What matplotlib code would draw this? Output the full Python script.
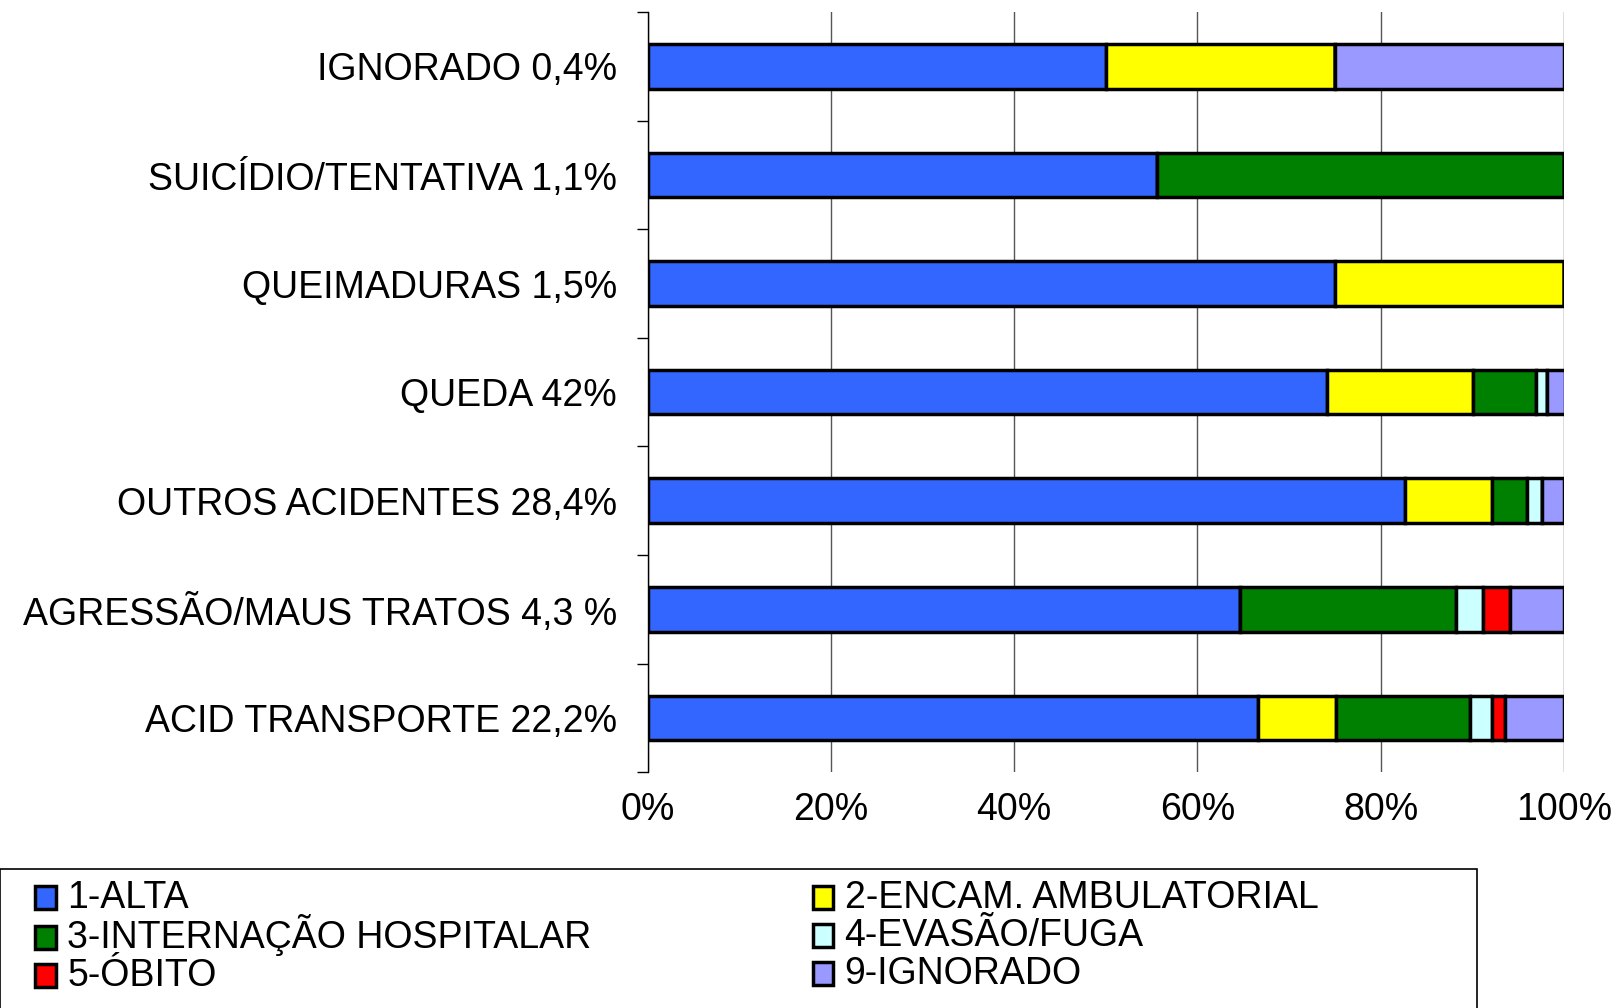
import numpy as np
import matplotlib.pyplot as plt
from matplotlib.patches import Rectangle
from matplotlib.legend_handler import HandlerPatch

plt.rcParams['font.family'] = ['Liberation Sans', 'DejaVu Sans']

categorias = ['ACID TRANSPORTE 22,2%', 'AGRESSÃO/MAUS TRATOS 4,3 %', 'OUTROS ACIDENTES 28,4%',
              'QUEDA 42%', 'QUEIMADURAS 1,5%', 'SUICÍDIO/TENTATIVA 1,1%', 'IGNORADO 0,4%']

alta = [66.6, 64.7, 82.7, 74.1, 75.0, 55.6, 50.0]
encam = [8.5, 0.0, 9.4, 16.0, 25.0, 0.0, 25.0]
internacao = [14.6, 23.5, 3.9, 6.8, 0.0, 44.4, 0.0]
evasao = [2.4, 3.0, 1.6, 1.2, 0.0, 0.0, 0.0]
obito = [1.5, 2.9, 0.0, 0.0, 0.0, 0.0, 0.0]
ignorado = [6.4, 5.9, 2.4, 2.0, 0.0, 0.0, 25.0]

series = [alta, encam, internacao, evasao, obito, ignorado]
nomes = ['1-ALTA', '2-ENCAM. AMBULATORIAL', '3-INTERNAÇÃO HOSPITALAR',
         '4-EVASÃO/FUGA', '5-ÓBITO', '9-IGNORADO']
cores = ['#3366FF', '#FFFF00', '#008000', '#CCFFFF', '#FF0000', '#9999FF']

fig = plt.figure(figsize=(16.19, 10.08), dpi=100)
ax = fig.add_axes([0.40, 0.234, 0.566, 0.754])

y = np.arange(len(categorias))
base = np.zeros(len(categorias))
barras = []
for vals, nome, cor in zip(series, nomes, cores):
    v = np.array(vals)
    b = ax.barh(y, v, left=base, height=0.41, color=cor, edgecolor='black',
                linewidth=2.5, label=nome, zorder=3)
    barras.append(b)
    base = base + v

ax.set_xlim(0, 100)
ax.set_ylim(-0.5, 6.5)
ax.set_xticks([0, 20, 40, 60, 80, 100])
ax.set_xticklabels(['0%', '20%', '40%', '60%', '80%', '100%'], fontsize=27)
ax.set_yticks(y)
ax.set_yticklabels(categorias, fontsize=27)
ax.set_yticks(np.arange(-0.5, 7, 1), minor=True)
ax.tick_params(axis='y', which='major', length=0, pad=22)
ax.tick_params(axis='y', which='minor', length=8, width=1, direction='out')
ax.tick_params(axis='x', length=0, pad=14)
ax.grid(axis='x', color='#555555', linewidth=1, zorder=0)
for s in ['top', 'right', 'bottom']:
    ax.spines[s].set_visible(False)
ax.spines['left'].set_linewidth(1)


# quadradinho menor dentro da caixa da legenda
def quadrado(legend, orig_handle, xdescent, ydescent, width, height, fontsize):
    h = 0.6 * fontsize
    return Rectangle((-xdescent, -ydescent + (height - h) / 2 - 0.05 * fontsize), width, h)


# legenda em duas colunas (ordem por linha)
ordem = [0, 2, 4, 1, 3, 5]
handles = [barras[i].patches[0] for i in ordem]
labels = [nomes[i] for i in ordem]
fig.patches.append(Rectangle((0.0, -0.05), 0.912, 0.188, transform=fig.transFigure,
                             facecolor='none', edgecolor='black', linewidth=1.2))
fig.legend(handles, labels, ncol=2, frameon=False, fontsize=27,
           loc='upper left', bbox_to_anchor=(0.001, 0.164),
           handlelength=0.55, handleheight=1.2, handletextpad=0.3,
           columnspacing=5.9, labelspacing=-0.05,
           handler_map={Rectangle: HandlerPatch(patch_func=quadrado)})

fig.savefig('out.png', dpi=100)
